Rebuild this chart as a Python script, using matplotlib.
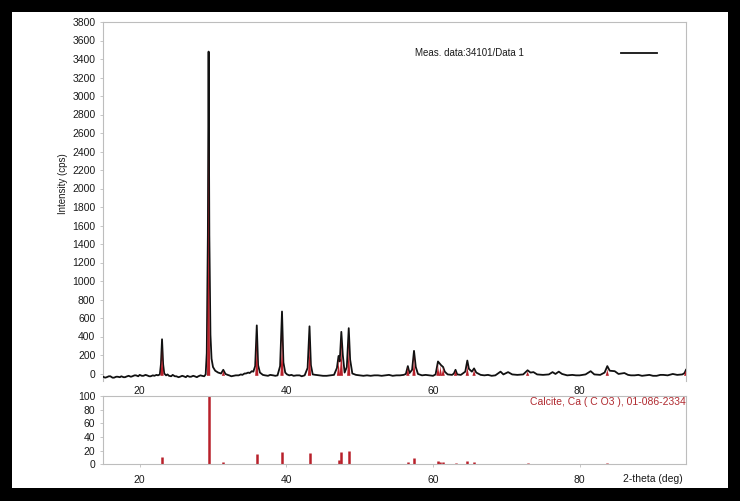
import matplotlib
matplotlib.use('Agg')
import matplotlib.pyplot as plt
from matplotlib.patches import Rectangle
from matplotlib.lines import Line2D
from matplotlib.transforms import ScaledTranslation

plt.rcParams['font.family'] = ['Liberation Sans', 'DejaVu Sans']

meas_2theta = [15.0, 15.3, 15.5, 15.8, 16.0, 16.3, 16.5, 16.8, 17.0, 17.3, 17.5, 17.8, 18.0, 18.3,
               18.5, 18.8, 19.0, 19.3, 19.5, 19.8, 20.0, 20.3, 20.5, 20.8, 21.0, 21.3, 21.5, 21.8,
               22.0, 22.3, 22.5, 22.75, 22.9, 23.05, 23.2, 23.35, 23.6, 23.8, 24.0, 24.3, 24.5,
               24.8, 25.0, 25.3, 25.5, 25.8, 26.0, 26.3, 26.5, 26.8, 27.0, 27.3, 27.5, 27.8, 28.0,
               28.3, 28.5, 28.8, 29.0, 29.15, 29.3, 29.4, 29.5, 29.65, 29.8, 30.0, 30.3, 30.7,
               31.1, 31.4, 31.7, 32.0, 32.2, 32.5, 32.8, 33.1, 33.5, 33.8, 34.0, 34.3, 34.5, 34.8,
               35.0, 35.3, 35.5, 35.75, 35.97, 36.15, 36.4, 36.8, 37.1, 37.5, 37.8, 38.2, 38.5,
               38.8, 39.15, 39.41, 39.6, 39.85, 40.1, 40.4, 40.7, 41.0, 41.4, 41.8, 42.1, 42.5,
               42.9, 43.16, 43.35, 43.6, 44.0, 44.5, 45.0, 45.5, 46.0, 46.5, 46.9, 47.12, 47.28,
               47.5, 47.7, 47.95, 48.25, 48.51, 48.7, 49.0, 49.5, 50.0, 50.5, 51.0, 51.5, 52.0,
               52.5, 53.0, 53.5, 54.0, 54.5, 55.0, 55.5, 56.0, 56.3, 56.57, 56.8, 57.15, 57.41,
               57.65, 57.95, 58.5, 59.0, 59.5, 60.0, 60.35, 60.68, 60.9, 61.1, 61.38, 61.6, 62.0,
               62.6, 62.85, 63.07, 63.3, 63.8, 64.4, 64.68, 64.9, 65.3, 65.6, 65.9, 66.5, 67.0,
               67.5, 68.0, 68.5, 69.21, 69.6, 70.24, 70.8, 71.5, 72.3, 72.9, 73.3, 73.7, 74.2,
               75.0, 75.8, 76.3, 76.7, 77.15, 77.6, 78.3, 79.0, 79.5, 80.0, 80.8, 81.5, 82.0,
               82.8, 83.4, 83.77, 84.1, 84.78, 85.3, 86.1, 86.6, 87.0, 87.5, 88.0, 88.5, 89.0,
               89.5, 90.0, 90.5, 91.0, 91.4, 92.0, 92.7, 93.3, 94.0, 94.3, 94.5]
meas_cps = [-35, -45, -40, -30, -30, -45, -45, -35, -35, -40, -30, -40, -40, -30,
            -25, -35, -30, -20, -20, -30, -15, -25, -25, -15, -20, -30, -30, -20,
            -25, -15, -20, -10, 100, 370, 100, 0, -20, -10, -25, -30, -15,
            -30, -30, -40, -35, -25, -30, -40, -25, -35, -35, -25, -30, -40, -30,
            -20, -25, -30, -10, 220, 1500, 3480, 1500, 420, 160, 70, 30, 10,
            0, 40, -5, -15, -20, -30, -25, -20, -20, -10, -15, 0, 0, 10,
            5, 25, 20, 80, 520, 90, 10, -15, -20, -25, -15, -20, -25,
            -20, 80, 670, 120, 10, -10, -20, -15, -25, -20, -20, -30, -20,
            60, 510, 90, -10, -15, -20, -25, -25, -20, -15, 60, 190, 130,
            450, 200, 10, 70, 490, 150, 0, -15, -20, -25, -20, -25, -20,
            -20, -25, -20, -15, -25, -20, -20, -15, -5, 80, 5, 40, 245,
            70, -5, -20, -15, -20, -25, -10, 130, 110, 90, 70, 20, -10,
            -15, 0, 40, -10, -15, 20, 140, 50, 20, 55, 10, -15, -20,
            -15, -25, -20, 20, -10, 15, -10, -15, -10, 35, 10, 15, -10,
            -15, -10, 15, -5, 20, -5, -20, -15, -20, -20, -10, 25, -10,
            -15, 10, 80, 30, 25, -5, 5, -15, -20, -20, -15, -25, -20,
            -15, -25, -25, -15, -15, -20, -5, -15, -10, 5, 40]

# --- red profile peaks under the measurement ---
red_2theta = [23.05, 29.4, 31.42, 35.97, 39.41, 43.16, 47.12, 47.5, 48.51, 56.57, 57.41,
              60.68, 61.02, 61.38, 63.07, 64.68, 65.6, 72.9, 83.77, 94.45]
red_top = [280, 2550, 30, 380, 450, 380, 170, 380, 380, 70, 200,
           110, 90, 70, 30, 100, 45, 20, 50, 30]

# --- reference sticks: Calcite 01-086-2334 ---
stick_2theta = [23.05, 29.4, 31.42, 35.97, 39.41, 43.16, 47.12, 47.5, 48.51, 56.57, 57.41,
                58.1, 60.68, 61.02, 61.38, 63.07, 64.68, 65.6, 69.21, 70.24, 72.9, 73.7,
                76.3, 77.15, 81.5, 83.77, 84.78, 86.1, 88.5, 90.0, 91.4, 92.7, 94.5]
stick_rel = [10, 100, 3, 15, 18, 16, 7, 18, 20, 3, 9,
             1, 5, 3, 3, 2, 5, 3, 1, 1, 2, 1,
             1, 1, 1, 2, 1, 1, 1, 1, 1, 1, 1]

top_yticks = list(range(0, 3801, 200))
bot_yticks = [0, 20, 40, 60, 80, 100]
xticks = [20, 40, 60, 80]

W, H = 740, 501
def fx(p): return p / W
def fy(p): return 1 - p / H

RED = '#b8202a'
GREY = '#bdbdbd'

fig = plt.figure(figsize=(7.4, 5.01), dpi=100, facecolor='black')
fig.patches.append(Rectangle((fx(12), fy(488)), fx(716), 476 / H,
                             transform=fig.transFigure, facecolor='white', zorder=-5))

ax = fig.add_axes([fx(103), fy(380.9), fx(583), (380.9 - 22) / H])
ax2 = fig.add_axes([fx(103), fy(464.3), fx(583), (464.3 - 396) / H])

# top panel: measured line, red peak profiles drawn over its core
ax.plot(meas_2theta, meas_cps, color='#111111', lw=1.3, zorder=3)
for c, h in zip(red_2theta, red_top):
    ax.fill([c - 0.22, c - 0.05, c, c + 0.05, c + 0.22], [-25, h * 0.5, h, h * 0.5, -25],
            color=RED, lw=0, zorder=4)
ax.set_xlim(15.0, 94.5)
ax.set_ylim(-80, 3800)
ax.set_yticks(top_yticks)
ax.set_xticks(xticks)

# bottom panel
ax2.vlines(stick_2theta, 0, stick_rel, color=RED, lw=1.8)
ax2.set_xlim(15.0, 94.5)
ax2.set_ylim(0, 100)
ax2.set_yticks(bot_yticks)
ax2.set_xticks(xticks)

for a in (ax, ax2):
    a.set_facecolor('white')
    for s in a.spines.values():
        s.set_color(GREY)
        s.set_linewidth(0.8)
    a.tick_params(axis='both', colors=GREY, labelcolor='#1a1a1a', labelsize=7.5,
                  length=2.5, width=0.6, pad=3)
    for lab in a.get_xticklabels():
        lab.set_transform(lab.get_transform() + ScaledTranslation(-0.06, 0, fig.dpi_scale_trans))
ax.spines['bottom'].set_visible(False)
ax.tick_params(axis='x', length=0, pad=4)
ax2.spines['top'].set_linestyle((0, (1, 1)))
ax2.spines['bottom'].set_linestyle((0, (1, 1)))
ax2.tick_params(axis='x', pad=5)

fig.text(fx(63), fy(184), 'Intensity (cps)', rotation=90, ha='center', va='center',
         fontsize=7, color='#1a1a1a')
fig.text(fx(415), fy(53), 'Meas. data:34101/Data 1', ha='left', va='center',
         fontsize=7, color='#1a1a1a')
fig.lines.append(Line2D([fx(621), fx(657)], [fy(52.7), fy(52.7)], color='#111111',
                        lw=1.3, transform=fig.transFigure))
fig.text(fx(686), fy(402), 'Calcite, Ca ( C O3 ), 01-086-2334', ha='right', va='center',
         fontsize=7.5, color='#b02a30')
fig.text(fx(623), fy(479), '2-theta (deg)', ha='left', va='center',
         fontsize=7.5, color='#1a1a1a')

fig.savefig('out.png', dpi=100, facecolor='black')
